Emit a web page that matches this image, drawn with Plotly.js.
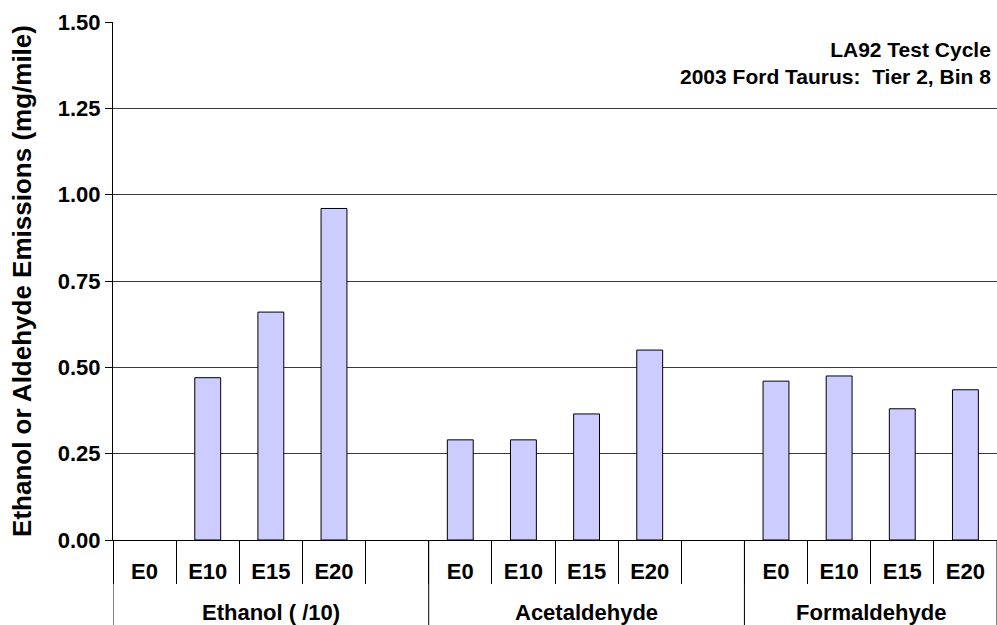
<!DOCTYPE html>
<html>
<head>
<meta charset="utf-8">
<script src="https://cdn.plot.ly/plotly-3.0.1.min.js"></script>
<style>
  html, body { margin: 0; padding: 0; background: #fff; }
  #chart { width: 997px; height: 625px; }
</style>
</head>
<body>
<div id="chart"></div>
<script>
var groups = ['Ethanol ( /10)', 'Acetaldehyde', 'Formaldehyde'];
var fuels = ['E0', 'E10', 'E15', 'E20'];
var ethanol = [null, 0.47, 0.66, 0.96];
var acetaldehyde = [0.29, 0.29, 0.365, 0.55];
var formaldehyde = [0.46, 0.475, 0.38, 0.435];

var series = [ethanol, acetaldehyde, formaldehyde];
var slots = fuels.length + 1;   // empty slot after each group
var nSlots = groups.length * slots - 1;
var labelBand = 85 / 603;       // paper height taken by the category labels

var xs = [], ys = [], subVals = [], subText = [];
var groupCenters = [], groupBounds = [-0.5];
series.forEach(function (vals, g) {
  var start = g * slots;
  vals.forEach(function (v, f) {
    xs.push(start + f);
    ys.push(v);
    subVals.push(start + f);
    subText.push(fuels[f]);
  });
  var end = Math.min(start + slots, nSlots) - 0.5;
  groupCenters.push((start - 0.5 + end) / 2);
  groupBounds.push(end);
});
var slotBounds = [];
for (var i = 0; i <= nSlots; i++) slotBounds.push(i - 0.5);

var fnt = { family: 'Arial, "Liberation Sans", sans-serif', size: 22, color: '#000', weight: 'bold' };
var xr = [-0.5, nSlots - 0.5];

var trace = {
  x: xs, y: ys, type: 'bar', width: 0.41,
  marker: { color: '#CCCCFF', line: { color: '#000', width: 1 } },
  hoverinfo: 'y'
};

// group dividers and group names under the fuel labels
var shapes = groupBounds.map(function (b) {
  return { type: 'line', xref: 'x', yref: 'paper', x0: b, x1: b, y0: 0, y1: labelBand,
           line: { color: '#000', width: 1 } };
});
var annotations = groups.map(function (name, g) {
  return { xref: 'x', yref: 'paper', x: groupCenters[g], y: 0, yanchor: 'bottom', yshift: -2,
           text: name, showarrow: false, font: { size: 22 } };
});
annotations.push({
  xref: 'paper', yref: 'paper', x: 1, y: 1, xanchor: 'right', yanchor: 'top',
  xshift: -4, yshift: -14, align: 'right', showarrow: false, font: { size: 21 },
  text: 'LA92 Test Cycle<br>2003 Ford Taurus:\u00a0 Tier 2, Bin 8'
});

var layout = {
  width: 997, height: 625,
  margin: { l: 113, r: 0, t: 22, b: 0 },
  paper_bgcolor: '#fff', plot_bgcolor: '#fff',
  font: fnt,
  showlegend: false,
  xaxis: {
    range: xr, fixedrange: true,
    tickmode: 'array', tickvals: subVals, ticktext: subText,
    ticks: '', showgrid: false, zeroline: false,
    showline: true, linecolor: '#000', linewidth: 1,
    ticklabelstandoff: 12,
    minor: { tickmode: 'array', tickvals: slotBounds, ticks: 'outside', ticklen: 43, tickcolor: '#000', tickwidth: 1, showgrid: false }
  },
  yaxis: {
    domain: [labelBand, 1], range: [0, 1.5], fixedrange: true,
    tick0: 0, dtick: 0.25, tickformat: '.2f',
    ticks: 'outside', ticklen: 7, tickcolor: '#000',
    showline: true, linecolor: '#000', linewidth: 1,
    showgrid: true, gridcolor: '#3a3a3a', gridwidth: 1, zeroline: false,
    title: { text: 'Ethanol or Aldehyde Emissions (mg/mile)', font: { size: 26 }, standoff: 18 }
  },
  shapes: shapes,
  annotations: annotations
};

Plotly.newPlot('chart', [trace], layout, { displayModeBar: false, staticPlot: true });
</script>
</body>
</html>
